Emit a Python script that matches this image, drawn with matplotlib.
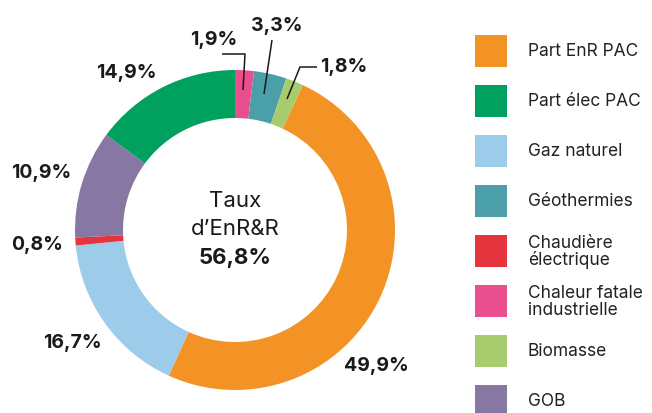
import matplotlib.pyplot as plt
from matplotlib.patches import Rectangle

plt.rcParams["font.family"] = ["Inter", "DejaVu Sans"]

# Segments in drawing order (clockwise from the top)
categories = [
    "Chaleur fatale industrielle",
    "Géothermies",
    "Biomasse",
    "Part EnR PAC",
    "Gaz naturel",
    "Chaudière électrique",
    "GOB",
    "Part élec PAC",
]
shares = [1.9, 3.3, 1.8, 49.9, 16.7, 0.8, 10.9, 14.9]
colors = {
    "Part EnR PAC": "#F39325",
    "Part élec PAC": "#00A05E",
    "Gaz naturel": "#9DCBEA",
    "Géothermies": "#4A9FA9",
    "Chaudière électrique": "#E6343F",
    "Chaleur fatale industrielle": "#E94E8E",
    "Biomasse": "#A8CB6E",
    "GOB": "#8777A3",
}
legend_order = [
    "Part EnR PAC",
    "Part élec PAC",
    "Gaz naturel",
    "Géothermies",
    "Chaudière électrique",
    "Chaleur fatale industrielle",
    "Biomasse",
    "GOB",
]
legend_labels = {
    "Chaudière électrique": "Chaudière\nélectrique",
    "Chaleur fatale industrielle": "Chaleur fatale\nindustrielle",
}
total_label = "56,8%"

W, H = 652, 414
fig = plt.figure(figsize=(W / 100, H / 100), dpi=100)
ax = fig.add_axes([0, 0, 1, 1])


def py(y):
    # pixel rows counted from the top
    return H - y


cx, cy, r = 235, py(231), 160
ax.pie(
    shares,
    colors=[colors[c] for c in categories],
    startangle=90,
    counterclock=False,
    center=(cx, cy),
    radius=r,
    wedgeprops=dict(width=48, linewidth=0),
    frame=True,
)
ax.set_xlim(0, W)
ax.set_ylim(0, H)
ax.set_aspect("equal")
ax.axis("off")


def fmt(v):
    return f"{v:.1f}".replace(".", ",") + "%"


# value labels: (x, y) text centre, optional leader polyline
label_pos = {
    "Chaleur fatale industrielle": ((214, 40), [(222, 55), (245, 55), (243, 91)]),
    "Géothermies": ((277, 26), [(272, 41), (264, 95)]),
    "Biomasse": ((344, 67), [(317, 68), (300, 68), (287, 100)]),
    "Part EnR PAC": ((376, 366), None),
    "Gaz naturel": ((72, 343), None),
    "Chaudière électrique": ((37, 245), None),
    "GOB": ((41, 173), None),
    "Part élec PAC": ((126, 73), None),
}
for cat, val in zip(categories, shares):
    (tx, ty), line = label_pos[cat]
    ax.text(tx, py(ty), fmt(val), ha="center", va="center",
            fontsize=14, fontweight="bold", color="#1a1a1a")
    if line:
        ax.plot([p[0] for p in line], [py(p[1]) for p in line],
                color="#1a1a1a", lw=1.1, solid_capstyle="butt")

# centre text
ax.text(cx, py(201), "Taux", ha="center", va="center", fontsize=16, color="#1a1a1a")
ax.text(cx, py(229), "d\u2019EnR&R", ha="center", va="center", fontsize=16, color="#1a1a1a")
ax.text(cx, py(258), total_label, ha="center", va="center", fontsize=16,
        fontweight="bold", color="#1a1a1a")

# legend drawn by hand
for i, cat in enumerate(legend_order):
    yc = 52 + i * 50
    ax.add_patch(Rectangle((475, py(yc + 16)), 32, 32, color=colors[cat], lw=0))
    ax.text(528, py(yc), legend_labels.get(cat, cat), ha="left", va="center",
            fontsize=12.5, color="#222222", linespacing=0.95)

fig.savefig("out.png", dpi=100)
